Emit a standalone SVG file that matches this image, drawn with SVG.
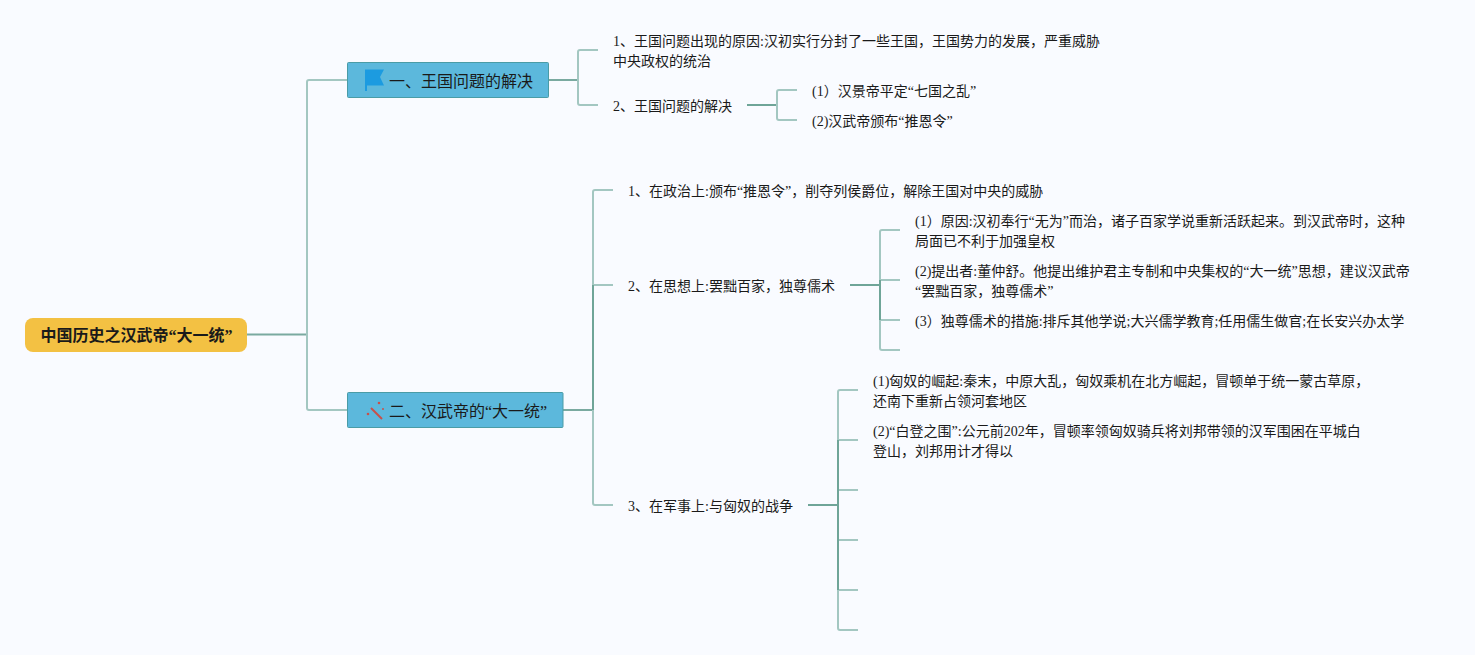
<svg xmlns="http://www.w3.org/2000/svg" width="1475" height="655" viewBox="0 0 1475 655">
<style>
text{font-family:"Liberation Serif","Noto Sans CJK SC",serif;font-size:14px;fill:#1a1a1a}
.topic{font-size:16px}
.root{font-size:16px;font-weight:bold}
.tr{fill:#5cb8dc;stroke:#4a9ca6;stroke-width:1}
path.a{fill:none;stroke:#7aaaa0;stroke-width:2}
path.b{fill:none;stroke:#a3c7c1;stroke-width:2}
path.c{fill:none;stroke:#6fa598;stroke-width:2}
</style>
<rect width="1475" height="655" fill="#f9fbff"/>
<g id="connectors">
<path class="a" d="M247 334.500H307"/>
<path class="b" d="M347 80H309Q307 80 307 82V408Q307 410 309 410H347"/>
<path class="a" d="M548 80H578"/>
<path class="b" d="M598 50H580Q578 50 578 52V103Q578 105 580 105H598"/>
<path class="c" d="M747 105H777"/>
<path class="b" d="M797 90H779Q777 90 777 92V118Q777 120 779 120H797"/>
<path class="a" d="M563 410H593"/>
<path class="b" d="M613 190H595Q593 190 593 192V503Q593 505 595 505H613"/>
<path class="b" d="M593 285H613"/>
<path class="c" d="M593 285V410"/>
<path class="c" d="M850 285H880"/>
<path class="b" d="M900 230H882Q880 230 880 232V348Q880 350 882 350H900"/>
<path class="b" d="M880 280H900M880 320H900"/>
<path class="c" d="M880 280V320"/>
<path class="c" d="M808 505H838"/>
<path class="b" d="M858 390H840Q838 390 838 392V628Q838 630 840 630H858"/>
<path class="b" d="M838 440H858M838 490H858M838 540H858M838 590H858"/>
<path class="c" d="M838 440V590"/>
</g>
<g id="root"><rect x="25" y="318" width="222" height="34" rx="8" fill="#f3c143"/><text class="root" x="40.500" y="341">中国历史之汉武帝“大一统”</text></g>
<g id="topic1"><rect class="tr" x="347.500" y="62.500" width="201" height="35" rx="1"/>
<path d="M365 69.500H384L380 77L384 85.500H367V91H365Z" fill="#1c9be0"/>
<text class="topic" x="389" y="87">一、王国问题的解决</text></g>
<g id="topic2"><rect class="tr" x="347.500" y="392.500" width="215.500" height="35" rx="1"/>
<path d="M371 408L382 419" stroke="#c8504a" stroke-width="2" fill="none"/><circle cx="379" cy="403" r="1.300" fill="#c8504a"/><circle cx="368" cy="414" r="1.300" fill="#c8504a"/><circle cx="383" cy="409" r="1" fill="#c8504a"/>
<text class="topic" x="389" y="417">二、汉武帝的“大一统”</text></g>
<g id="n1-1"><text x="613" y="46">1、王国问题出现的原因:汉初实行分封了一些王国，王国势力的发展，严重威胁</text><text x="613" y="66">中央政权的统治</text></g>
<g id="n1-2"><text x="613" y="111">2、王国问题的解决</text></g>
<g id="n1-2-1"><text x="812" y="96">(1）汉景帝平定“七国之乱”</text></g>
<g id="n1-2-2"><text x="812" y="126">(2)汉武帝颁布“推恩令”</text></g>
<g id="n2-1"><text x="628" y="196">1、在政治上:颁布“推恩令”，削夺列侯爵位，解除王国对中央的威胁</text></g>
<g id="n2-2"><text x="628" y="291">2、在思想上:罢黜百家，独尊儒术</text></g>
<g id="n2-2-1"><text x="915" y="226">(1）原因:汉初奉行“无为”而治，诸子百家学说重新活跃起来。到汉武帝时，这种</text><text x="915" y="246">局面已不利于加强皇权</text></g>
<g id="n2-2-2"><text x="915" y="276">(2)提出者:董仲舒。他提出维护君主专制和中央集权的“大一统”思想，建议汉武帝</text><text x="915" y="296">“罢黜百家，独尊儒术”</text></g>
<g id="n2-2-3"><text x="915" y="326">(3）独尊儒术的措施:排斥其他学说;大兴儒学教育;任用儒生做官;在长安兴办太学</text></g>
<g id="n2-3"><text x="628" y="511">3、在军事上:与匈奴的战争</text></g>
<g id="n2-3-1"><text x="873" y="386">(1)匈奴的崛起:秦末，中原大乱，匈奴乘机在北方崛起，冒顿单于统一蒙古草原，</text><text x="873" y="406">还南下重新占领河套地区</text></g>
<g id="n2-3-2"><text x="873" y="436">(2)“白登之围”:公元前202年，冒顿率领匈奴骑兵将刘邦带领的汉军围困在平城白</text><text x="873" y="456">登山，刘邦用计才得以</text></g>
</svg>
